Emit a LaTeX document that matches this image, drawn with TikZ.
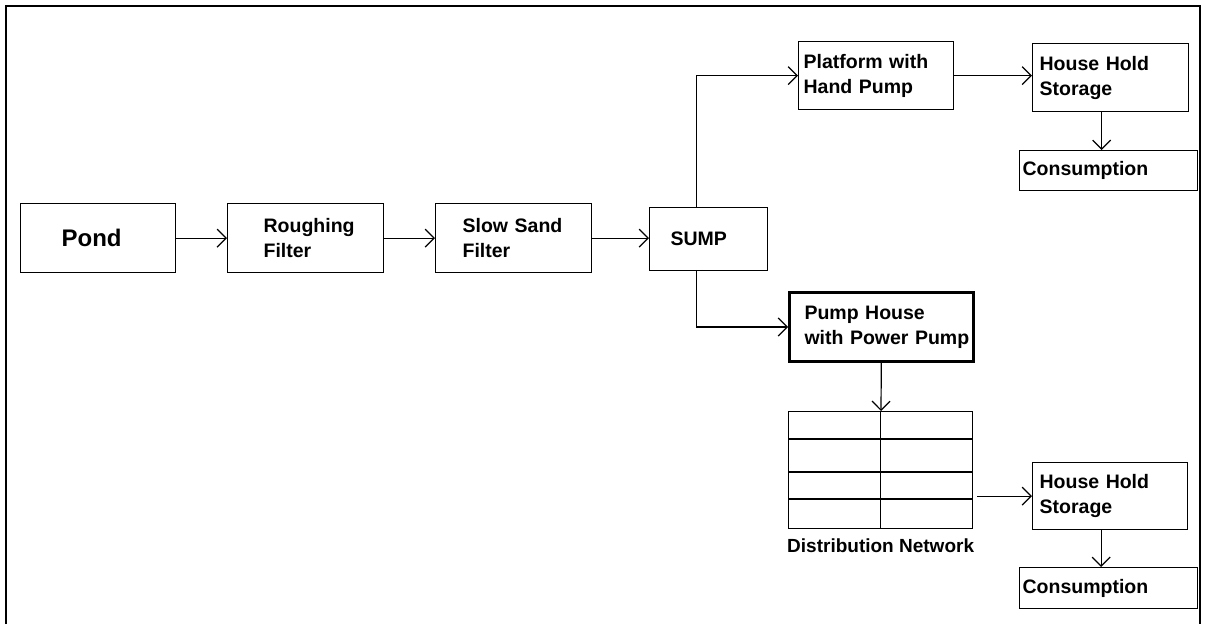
\documentclass[tikz,border=0pt]{standalone}
\usepackage{fontspec}
\setmainfont{Liberation Sans}
\usetikzlibrary{arrows.meta}

\begin{document}
\begin{tikzpicture}[x=1pt,y=-1pt]
    \tikzstyle{block}=[draw,line width=1.3pt,anchor=north west,align=left,inner ysep=2pt,font=\bfseries\fontsize{19.5}{25}\selectfont]
    \tikzstyle{block heavy}=[style=block,line width=3pt]
    \tikzstyle{flow}=[-{Straight Barb[length=9pt,width=18pt]},line width=1.2pt,color=black]
    \tikzstyle{frame}=[line width=2.5pt,color=black]
    \tikzstyle{grid line}=[line width=1.3pt,color=black]
    \tikzstyle{caption text}=[black,below=9pt,inner sep=0pt,font=\bfseries\fontsize{19}{22}\selectfont]

    \useasboundingbox (0,0) rectangle (1206,624);

    % Frame
    \draw[style=frame] (6,624) -- (6,6) -- (1200,6) -- (1200,624);

    % Treatment line
    \node[style=block,minimum width=155pt,minimum height=69pt,inner xsep=41pt,text width=73pt,
          font=\bfseries\fontsize{24}{28}\selectfont] (pond) at (20,203) {Pond};
    \node[style=block,minimum width=156pt,minimum height=69pt,inner xsep=36pt,text width=84pt] (rough) at (227,203) {Roughing\\Filter};
    \node[style=block,minimum width=156pt,minimum height=69pt,inner xsep=27pt,text width=102pt] (slow) at (435,203) {Slow Sand\\Filter};
    \node[style=block,minimum width=118pt,minimum height=63pt,inner xsep=21pt,text width=76pt] (sump) at (649,207) {SUMP};

    % Hand pump branch
    \node[style=block,minimum width=155pt,minimum height=68pt,inner xsep=5pt,text width=145pt] (plat) at (798,41) {Platform with\\Hand Pump};
    \node[style=block,minimum width=156pt,minimum height=68pt,inner xsep=7pt,text width=142pt] (hh1) at (1032,43) {House Hold\\Storage};
    \node[style=block,minimum width=178pt,minimum height=40pt,inner xsep=3pt,text width=172pt] (cons1) at (1019,150) {Consumption};

    % Power pump branch
    \node[style=block heavy,minimum width=184pt,minimum height=69pt,inner xsep=15pt,text width=154pt] (pump) at (788,291) {Pump House\\\mbox{with Power Pump}};
    \node[draw,line width=1.3pt,anchor=north west,minimum width=184pt,minimum height=117pt,inner sep=0pt] (net) at (788,411) {};
    \foreach \y in {439,472,499}
        \draw[style=grid line] (788,\y) -- (972,\y);
    \draw[style=grid line] (net.north) -- (net.south);
    \node[style=caption text] (netlabel) at (net.south) {Distribution Network};
    \node[style=block,minimum width=155pt,minimum height=67pt,inner xsep=7pt,text width=141pt] (hh2) at (1032,462) {House Hold\\Storage};
    \node[style=block,minimum width=178pt,minimum height=41pt,inner xsep=3pt,text width=172pt] (cons2) at (1019,567) {Consumption};

    % Connectors
    \draw[style=flow] (pond) -- (rough);
    \draw[style=flow] (rough) -- (slow);
    \draw[style=flow] (slow.east) -- (slow.east -| sump.west);
    \draw[style=flow] ([xshift=-12pt]sump.north) |- (plat.west);
    \draw[style=flow] ([xshift=-12pt]sump.south) |- (pump.west);
    \draw[style=flow] (plat.east) -- (plat.east -| hh1.west);
    \draw[style=flow] ([xshift=-9pt]hh1.south) -- ([xshift=-9pt]hh1.south |- cons1.north);
    \draw[style=flow] (pump) -- (net);
    \draw[style=flow,shorten <=4pt] (hh2.west -| net.east) -- (hh2.west);
    \draw[style=flow] ([xshift=-9pt]hh2.south) -- ([xshift=-9pt]hh2.south |- cons2.north);

\end{tikzpicture}
\end{document}
